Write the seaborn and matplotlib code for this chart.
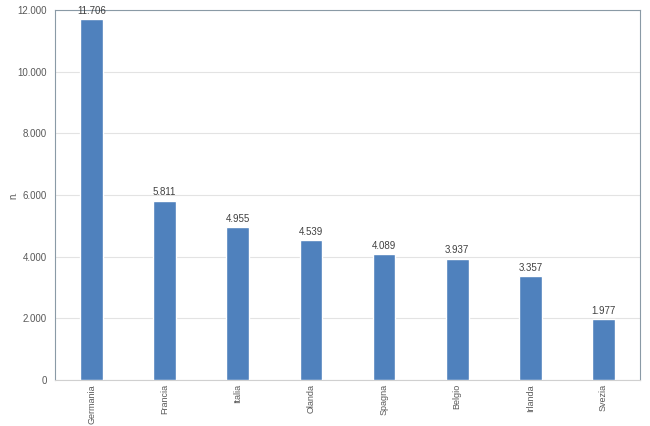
import matplotlib
matplotlib.use("Agg")
import matplotlib.pyplot as plt
import seaborn as sns
import pandas as pd
from matplotlib.ticker import FuncFormatter

categories = ["Germania", "Francia", "Italia", "Olanda", "Spagna", "Belgio", "Irlanda", "Svezia"]
values = [11706, 5811, 4955, 4539, 4089, 3937, 3357, 1977]
yticks = [0, 2000, 4000, 6000, 8000, 10000, 12000]

df = pd.DataFrame({"paese": categories, "n": values})

sns.set_style("white")
plt.rcParams['font.family'] = ['Liberation Sans', 'DejaVu Sans']

fig = plt.figure(figsize=(6.5, 4.26), dpi=100)
ax = fig.add_axes([55/650, 46/426, 585/650, 370/426])

sns.barplot(data=df, x="paese", y="n", color="#4F81BD", width=0.31, saturation=1, ax=ax, zorder=3)

def fmt(v):
    return f"{int(round(v)):,}".replace(",", ".")

ax.set_ylim(0, 12000)
ax.set_yticks(yticks)
ax.yaxis.set_major_formatter(FuncFormatter(lambda v, p: fmt(v)))
ax.grid(axis="y", color="#e3e3e3", linewidth=0.8, zorder=0)
ax.set_xlim(-0.5, len(categories) - 0.5)

for i, v in enumerate(values):
    ax.text(i, v + 110, fmt(v), ha="center", va="bottom", fontsize=7, color="#404040")

ax.tick_params(axis="x", labelrotation=90, labelsize=6.5, colors="#595959", length=0, pad=3)
ax.tick_params(axis="y", labelsize=7, colors="#595959", length=0, pad=6)
ax.set_xlabel("")
ax.set_ylabel("n.", fontsize=7, color="#595959")
ax.yaxis.set_label_coords(-0.063, 0.5)

for s in ["left", "top", "right"]:
    ax.spines[s].set_color("#8a9aa6")
    ax.spines[s].set_linewidth(0.8)
ax.spines["bottom"].set_color("#d0d0d0")
ax.spines["bottom"].set_linewidth(0.8)

fig.savefig("out.png", dpi=100)
